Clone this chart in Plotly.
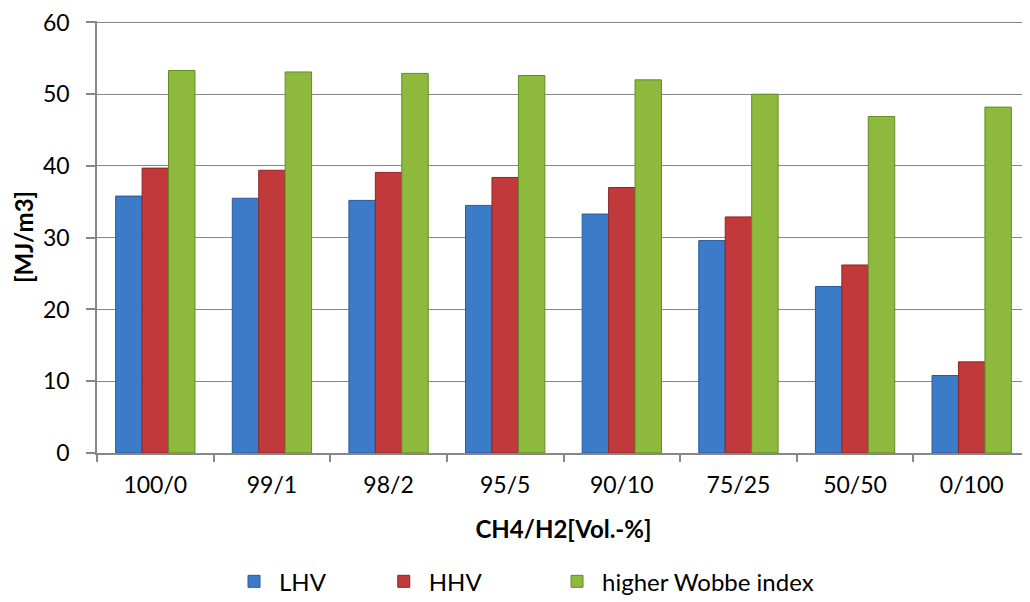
import plotly.graph_objects as go

categories = ["100/0", "99/1", "98/2", "95/5", "90/10", "75/25", "50/50", "0/100"]
lhv = [35.8, 35.5, 35.2, 34.5, 33.3, 29.6, 23.2, 10.8]
hhv = [39.7, 39.4, 39.1, 38.4, 37.0, 32.9, 26.2, 12.7]
wobbe = [53.3, 53.1, 52.9, 52.6, 52.0, 50.0, 46.9, 48.2]
y_ticks = [0, 10, 20, 30, 40, 50, 60]

series = [("LHV", lhv, "#3C7BC8", "#2A5A9A", "legend", 0.1415),
          ("HHV", hhv, "#C2393B", "#8E2626", "legend2", 0.302),
          ("higher Wobbe index", wobbe, "#8DB93C", "#668A28", "legend3", 0.4877)]

FONT = "Lato, 'Open Sans', sans-serif"

fig = go.Figure()
for name, vals, col, line, lg, lx in series:
    fig.add_trace(go.Bar(x=categories, y=vals, name=name, legend=lg, showlegend=True,
                         marker=dict(color=col, line=dict(color=line, width=1))))

legend_common = dict(orientation="h", y=-0.298, yanchor="middle", xanchor="left",
                     itemwidth=40,
                     font=dict(size=24, color="black"), bgcolor="rgba(0,0,0,0)")

fig.update_layout(
    width=1022, height=594,
    margin=dict(l=89, r=0, t=13, b=149, autoexpand=False),
    paper_bgcolor="white", plot_bgcolor="white",
    showlegend=True,
    barmode="group", bargap=0.32, bargroupgap=0,
    font=dict(family=FONT, size=23, color="black"),
    legend=dict(x=series[0][5], **legend_common),
    legend2=dict(x=series[1][5], **legend_common),
    legend3=dict(x=series[2][5], **legend_common),
    xaxis=dict(title=dict(text="<b>CH4/H2[Vol.-%]</b>", font=dict(size=24), standoff=24),
               showline=True, linecolor="#878787", linewidth=1.5,
               ticks="outside", tickson="boundaries", ticklen=7, tickcolor="#878787",
               tickwidth=1.5, tickfont=dict(size=23), ticklabelstandoff=11),
    yaxis=dict(title=dict(text="<b>[MJ/m3]</b>", font=dict(size=24), standoff=3),
               range=[0, 60.2], tickmode="array", tickvals=y_ticks,
               ticktext=[str(v) for v in y_ticks], ticklabeloverflow="allow",
               showline=True, linecolor="#878787", linewidth=1.5,
               ticks="outside", ticklen=9, tickcolor="#878787", tickwidth=1.5,
               showgrid=True, gridcolor="#878787", gridwidth=1.3,
               tickfont=dict(size=23), zeroline=False, ticklabelstandoff=12),
)

fig.write_html("out.html")
